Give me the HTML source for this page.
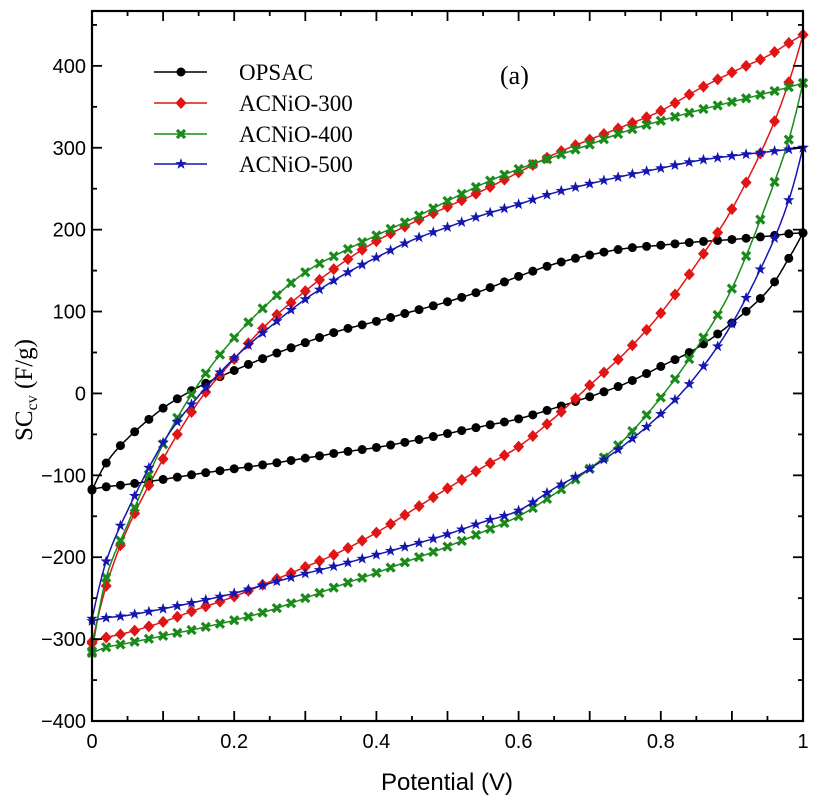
<!DOCTYPE html>
<html><head><meta charset="utf-8">
<style>
html,body{margin:0;padding:0;background:#fff;}
svg{display:block;font-family:"Liberation Serif",serif;}
.sans{font-family:"Liberation Sans",sans-serif;}
</style></head>
<body>
<svg id="chart" width="814" height="804" viewBox="0 0 814 804" xmlns="http://www.w3.org/2000/svg">
<g id="marks"></g>
<g id="axes"></g>
<text x="500" y="84" font-size="26">(a)</text>
<text class="sans" x="447" y="790" font-size="24" text-anchor="middle">Potential (V)</text>
<text transform="translate(32,390) rotate(-90)" font-size="25" text-anchor="middle">SC<tspan font-size="16" dy="5">cv</tspan><tspan dy="-5"> (F/g)</tspan></text>
<g id="legend"></g>
</svg>
<script>
const xVals = [0,0.02,0.05,0.1,0.15,0.2,0.25,0.3,0.35,0.4,0.45,0.5,0.55,0.6,0.65,0.7,0.75,0.8,0.85,0.9,0.95,0.98,1.0];
const seriesNames = ["OPSAC","ACNiO-300","ACNiO-400","ACNiO-500"];
const opsacUpper = [-118,-85,-55,-18,8,28,46,62,77,88,100,112,126,143,158,169,177,181,185,188,192,195,196];
const opsacLower = [-117,-114,-111,-105,-98,-92,-86,-79,-72,-66,-58,-49,-40,-31,-18,-4,12,33,55,86,125,165,196];
const acn300Upper = [-305,-235,-165,-80,-10,42,88,125,158,186,208,228,248,270,292,310,327,345,370,392,412,428,438];
const acn300Lower = [-303,-298,-292,-279,-263,-248,-230,-212,-193,-170,-143,-116,-90,-65,-30,10,50,98,158,225,312,380,438];
const acn400Upper = [-315,-225,-160,-62,12,68,112,148,172,193,213,235,256,274,289,304,320,333,345,356,367,374,379];
const acn400Lower = [-317,-310,-305,-296,-287,-277,-265,-250,-234,-219,-203,-187,-169,-150,-123,-92,-55,-5,55,128,235,310,379];
const acn500Upper = [-275,-205,-143,-60,-3,43,81,115,143,166,187,203,218,231,245,256,266,275,284,290,295,298,300];
const acn500Lower = [-278,-274,-271,-263,-254,-244,-232,-220,-209,-197,-185,-172,-157,-143,-116,-92,-62,-25,22,85,170,236,300];
const xTicks = [0,0.2,0.4,0.6,0.8,1];
const xTickLabels = ["0","0.2","0.4","0.6","0.8","1"];
const yTicks = [-400,-300,-200,-100,0,100,200,300,400];
const yTickLabels = ["\u2212400","\u2212300","\u2212200","\u2212100","0","100","200","300","400"];

const X0=92,X1=803,YT=11,YB=721;
const yMin=-400,yMax=467;
const sx=v=>X0+(X1-X0)*v;
const sy=v=>YB-(YB-YT)*(v-yMin)/(yMax-yMin);
const NS="http://www.w3.org/2000/svg";
function mk(tag,attrs,parent){const e=document.createElementNS(NS,tag);for(const k in attrs)e.setAttribute(k,attrs[k]);parent.appendChild(e);return e;}
const marks=document.getElementById('marks'),axes=document.getElementById('axes'),legend=document.getElementById('legend');

const colors=["#000000","#e01515","#1a8a1a","#1515b0"];
const uppers=[opsacUpper,acn300Upper,acn400Upper,acn500Upper];
const lowers=[opsacLower,acn300Lower,acn400Lower,acn500Lower];

function dense(ys){
  const pts=xVals.map((x,i)=>[sx(x),sy(ys[i])]);const out=[];
  for(let i=0;i<pts.length-1;i++){
    const p0=pts[Math.max(0,i-1)],p1=pts[i],p2=pts[i+1],p3=pts[Math.min(pts.length-1,i+2)];
    for(let t=0;t<1;t+=0.05){
      const t2=t*t,t3=t2*t;
      const f=(a,b,c,d)=>0.5*((2*b)+(-a+c)*t+(2*a-5*b+4*c-d)*t2+(-a+3*b-3*c+d)*t3);
      out.push([f(p0[0],p1[0],p2[0],p3[0]),f(p0[1],p1[1],p2[1],p3[1])]);
    }
  }
  out.push(pts[pts.length-1]);return out;
}
function yAt(d,px){
  for(let i=0;i<d.length-1;i++){if(px>=d[i][0]&&px<=d[i+1][0]){const t=(px-d[i][0])/((d[i+1][0]-d[i][0])||1);return d[i][1]+t*(d[i+1][1]-d[i][1]);}}
  return d[d.length-1][1];
}
function marker(k,x,y,parent){
  const c=colors[k];let e;
  if(k===0){e=mk('circle',{cx:x,cy:y,r:4.5,fill:c},parent);}
  else if(k===1){e=mk('polygon',{points:`${x},${y-6} ${x+5.5},${y} ${x},${y+6} ${x-5.5},${y}`,fill:c},parent);}
  else if(k===2){e=mk('path',{d:`M${x-4},${y-4}L${x+4},${y+4}M${x+4},${y-4}L${x-4},${y+4}`,stroke:c,'stroke-width':3.2,fill:'none'},parent);}
  else{let p=[];for(let j=0;j<10;j++){const r=j%2?2.4:6,a=-Math.PI/2+j*Math.PI/5;p.push((x+r*Math.cos(a)).toFixed(1)+','+(y+r*Math.sin(a)).toFixed(1));}e=mk('polygon',{points:p.join(' '),fill:c},parent);}
  return e;
}
for(let k=0;k<4;k++){
  const g=mk('g',{},marks);
  
  
  [uppers[k],lowers[k]].forEach((ys,bi)=>{
    const d=dense(ys);
    const path=mk('path',{d:'M'+d.map(p=>p[0].toFixed(1)+','+p[1].toFixed(1)).join('L'),fill:'none',stroke:colors[k],'stroke-width':1.5},g);
    
    
    for(let j=0;j<=50;j++){
      const px=sx(j*0.02);const m=marker(k,px,yAt(d,px),g);
      
      
    }
  });
}
const fr=mk('rect',{x:X0,y:YT,width:X1-X0,height:YB-YT,fill:'none',stroke:'#000','stroke-width':2.2},axes);


for(let i=0;i<=20;i++){
  const v=i*0.05,px=sx(v),L=(i%2===0)?10:5;
  mk('line',{x1:px,y1:YB,x2:px,y2:YB-L,stroke:'#000','stroke-width':1.8},axes);
  mk('line',{x1:px,y1:YT,x2:px,y2:YT+L,stroke:'#000','stroke-width':1.8},axes);
}
for(let v=-400;v<=450;v+=50){
  const py=sy(v),L=(v%100===0)?10:5;
  mk('line',{x1:X0,y1:py,x2:X0+L,y2:py,stroke:'#000','stroke-width':1.8},axes);
  mk('line',{x1:X1,y1:py,x2:X1-L,y2:py,stroke:'#000','stroke-width':1.8},axes);
}
xTicks.forEach((v,i)=>{
  const t=mk('text',{x:sx(v),y:YB+27,'font-size':20,'text-anchor':'middle','class':'sans'},axes);t.textContent=xTickLabels[i];
  
  
});
yTicks.forEach((v,i)=>{
  const t=mk('text',{x:X0-6,y:sy(v)+7,'font-size':20,'text-anchor':'end','class':'sans'},axes);t.textContent=yTickLabels[i];
  
  
});
const legY=[72,103,134,164];
for(let k=0;k<4;k++){
  const g=mk('g',{},legend);
  
  
  mk('line',{x1:154,y1:legY[k],x2:207,y2:legY[k],stroke:colors[k],'stroke-width':1.5},g);
  marker(k,181,legY[k],g);
  const t=mk('text',{x:239,y:legY[k]+8,'font-size':23},g);t.textContent=seriesNames[k];
}
</script>
</body></html>
